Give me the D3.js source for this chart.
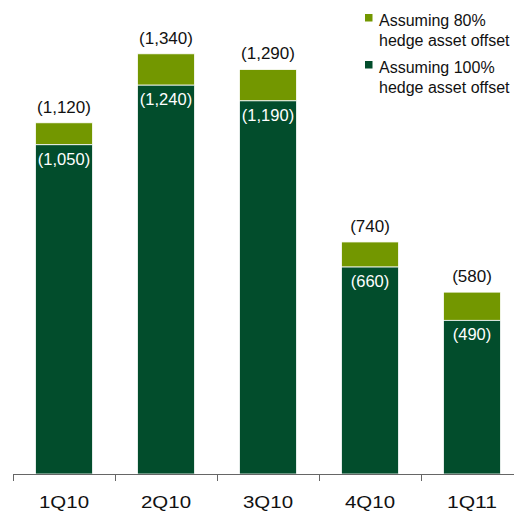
<!DOCTYPE html>
<html>
<head>
<meta charset="utf-8">
<script src="https://cdn.jsdelivr.net/npm/d3@7"></script>
<style>
  html, body { margin: 0; padding: 0; background: #fff; }
  svg { display: block; font-family: "Liberation Sans", Arial, sans-serif; }
</style>
</head>
<body>
<svg id="chart" width="514" height="512"></svg>
<script>
// Quarterly values (shown in parentheses as negatives)
const quarters = ["1Q10", "2Q10", "3Q10", "4Q10", "1Q11"];
const full100 = [1050, 1240, 1190, 660, 490];   // assuming 100% hedge asset offset
const partial80 = [1120, 1340, 1290, 740, 580]; // assuming 80% hedge asset offset
const legendLabels = [
  ["Assuming 80%", "hedge asset offset"],
  ["Assuming 100%", "hedge asset offset"]
];

const lightGreen = "#739700";
const darkGreen = "#024d2c";

const svg = d3.select("#chart");
const fmt = v => "(" + d3.format(",")(v) + ")";

const x = d3.scaleBand()
  .domain(quarters)
  .range([13, 523])
  .paddingInner(0.44)
  .paddingOuter(0.22);

const y = d3.scaleLinear()
  .domain([0, 1400])
  .range([474, 35]);

const rows = quarters.map((q, i) => ({ q, low: full100[i], high: partial80[i] }));

// Upper segment: difference between the 80% and 100% cases
svg.append("g").selectAll("rect")
  .data(rows)
  .join("rect")
  .attr("x", d => x(d.q))
  .attr("width", x.bandwidth())
  .attr("y", d => y(d.high))
  .attr("height", d => y(d.low) - y(d.high))
  .attr("fill", lightGreen)
  .attr("stroke", "#fff")
  .attr("stroke-width", 0.8);

// Lower segment: 100% offset case
svg.append("g").selectAll("rect")
  .data(rows)
  .join("rect")
  .attr("x", d => x(d.q))
  .attr("width", x.bandwidth())
  .attr("y", d => y(d.low))
  .attr("height", d => y(0) - y(d.low))
  .attr("fill", darkGreen)
  .attr("stroke", "#fff")
  .attr("stroke-width", 0.8);

// Total labels above each bar
svg.append("g").selectAll("text")
  .data(rows)
  .join("text")
  .attr("x", d => x(d.q) + x.bandwidth() / 2)
  .attr("y", d => y(d.high) - 10)
  .attr("text-anchor", "middle")
  .attr("font-size", 17)
  .attr("fill", "#111")
  .text(d => fmt(d.high));

// Labels inside the dark segment
svg.append("g").selectAll("text")
  .data(rows)
  .join("text")
  .attr("x", d => x(d.q) + x.bandwidth() / 2)
  .attr("y", d => y(d.low) + 20)
  .attr("text-anchor", "middle")
  .attr("font-size", 16.5)
  .attr("fill", "#fff")
  .text(d => fmt(d.low));

// Category axis with ticks between bands
const axisG = svg.append("g");
const base = y(0);
const gap = (x.step() - x.bandwidth()) / 2;
const boundaries = quarters.map(q => x(q) - gap).concat([x(quarters[quarters.length - 1]) + x.bandwidth() + gap]);

axisG.append("line")
  .attr("x1", boundaries[0]).attr("x2", 514)
  .attr("y1", base + 0.5).attr("y2", base + 0.5)
  .attr("stroke", "#666").attr("stroke-width", 1);

axisG.selectAll("line.tick")
  .data(boundaries)
  .join("line")
  .attr("class", "tick")
  .attr("x1", d => Math.round(d) + 0.5).attr("x2", d => Math.round(d) + 0.5)
  .attr("y1", base).attr("y2", base + 7)
  .attr("stroke", "#666").attr("stroke-width", 1);

axisG.selectAll("text")
  .data(quarters)
  .join("text")
  .attr("x", d => x(d) + x.bandwidth() / 2)
  .attr("y", base + 34)
  .attr("text-anchor", "middle")
  .attr("font-size", 17)
  .attr("textLength", 50)
  .attr("lengthAdjust", "spacingAndGlyphs")
  .attr("fill", "#111")
  .text(d => d);

// Legend
const legend = svg.append("g");
const legendColors = [lightGreen, darkGreen];
const legendTop = [14, 61];
legendLabels.forEach((lines, i) => {
  legend.append("rect")
    .attr("x", 365).attr("y", legendTop[i])
    .attr("width", 7.5).attr("height", 7.5)
    .attr("fill", legendColors[i]);
  const t = legend.append("text")
    .attr("x", 379)
    .attr("y", legendTop[i] + 11.5)
    .attr("font-size", 16)
    .attr("fill", "#111");
  lines.forEach((s, j) => {
    t.append("tspan").attr("x", 379).attr("dy", j === 0 ? 0 : 20).text(s);
  });
});
</script>
</body>
</html>
